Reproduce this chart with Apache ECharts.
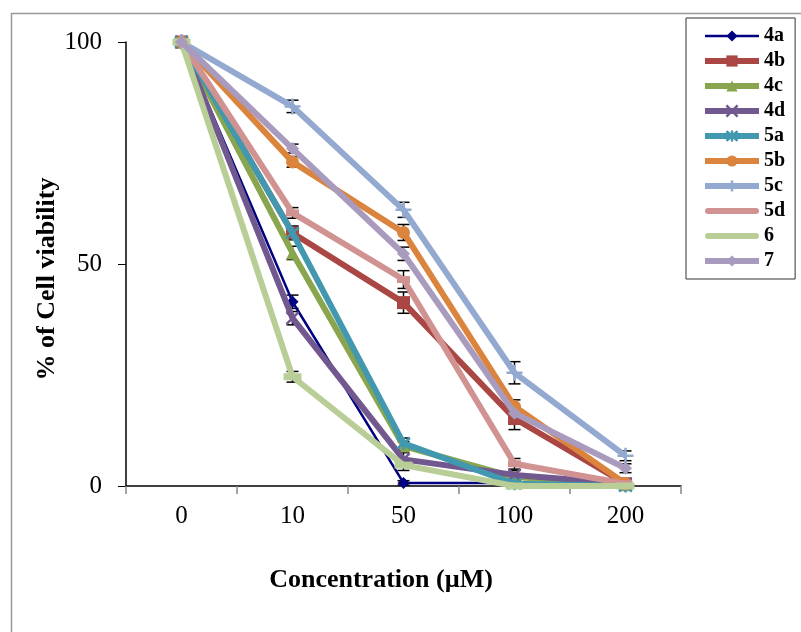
<!DOCTYPE html>
<html>
<head>
<meta charset="utf-8">
<script src="https://cdn.jsdelivr.net/npm/echarts@6/dist/echarts.min.js"></script>
<style>
html,body{margin:0;padding:0;background:#fff;}
#chart{width:801px;height:632px;}
</style>
</head>
<body>
<div id="chart"></div>
<script>
// ---- data ----
var categories = ['0', '10', '50', '100', '200'];
var yTicks = [0, 50, 100];
var seriesNames = ['4a', '4b', '4c', '4d', '5a', '5b', '5c', '5d', '6', '7'];
var v4a = [100, 41.5, 0.7, 0.7, 0];
var v4b = [100, 57, 41.3, 15.2, 0.5];
var v4c = [100, 52.5, 9, 2, 0.3];
var v4d = [100, 37.8, 6, 2.5, 0.5];
var v5a = [100, 57, 9.6, 0.5, 0];
var v5b = [100, 73, 57.1, 17.9, 0.5];
var v5c = [100, 85.5, 62.2, 25.5, 6.8];
var v5d = [100, 61.5, 46.5, 5, 0.5];
var v6  = [100, 24.6, 4.7, 0, 0];
var v7  = [100, 76, 52.3, 16.4, 4];
var e4a = [0, 1.5, 0.5, 0.5, 0];
var e4b = [0, 1.5, 2.4, 2.5, 0.5];
var e4c = [0, 1.5, 1.0, 0.5, 0];
var e4d = [0, 1.5, 1.5, 1.0, 0.5];
var e5a = [0, 1.5, 1.2, 0.5, 0.3];
var e5b = [0, 1.2, 1.8, 1.5, 0.5];
var e5c = [0, 1.4, 1.7, 2.5, 1.1];
var e5d = [0, 1.2, 2.0, 1.2, 0.5];
var e6  = [0, 1.2, 1.2, 0.3, 0];
var e7  = [0, 1.0, 1.5, 1.5, 1.0];

var values = [v4a, v4b, v4c, v4d, v5a, v5b, v5c, v5d, v6, v7];
var errors = [e4a, e4b, e4c, e4d, e5a, e5b, e5c, e5d, e6, e7];

// ---- styles ----
var colors = ['#000080', '#AA4643', '#89A54E', '#71588F', '#4198AF', '#DB843D', '#93A9CF', '#D19392', '#B9CD96', '#A99BBD'];
var lineWidths = [2.5, 6, 6, 6, 6, 6, 6, 6, 6, 6];
var symbols = ['diamond', 'rect', 'triangle',
  'path://M0,0L10,10M10,0L0,10',
  'path://M0,0L10,10M10,0L0,10M5,-1L5,11',
  'circle',
  'path://M5,0L5,10M0,5L10,5',
  'rect', 'rect', 'diamond'];
var symbolSizes = [12, 13, 13, 12, 13, 13, 16, [13, 7], [18, 7], 13];
var strokeSym = [false, false, false, true, true, false, true, false, false, false];
var plainLegend = [false, false, false, false, false, false, false, true, true, false];

var chart = echarts.init(document.getElementById('chart'));
var serif = '"Liberation Serif", "Times New Roman", serif';

var series = [];
// error bars
values.forEach(function (vals, si) {
  var d = vals.map(function (v, i) { return [i, v, errors[si][i]]; }).filter(function (p) { return p[2] > 0; });
  series.push({
    type: 'custom',
    name: 'err' + si,
    z: 1,
    silent: true,
    data: d,
    renderItem: function (params, api) {
      var x = api.value(0), y = api.value(1), e = api.value(2);
      var hi = api.coord([x, y + e]);
      var lo = api.coord([x, y - e]);
      var w = 6;
      var st = { stroke: '#000', lineWidth: 1.5 };
      return {
        type: 'group',
        children: [
          { type: 'line', shape: { x1: hi[0], y1: hi[1], x2: lo[0], y2: lo[1] }, style: st },
          { type: 'line', shape: { x1: hi[0] - w, y1: hi[1], x2: hi[0] + w, y2: hi[1] }, style: st },
          { type: 'line', shape: { x1: lo[0] - w, y1: lo[1], x2: lo[0] + w, y2: lo[1] }, style: st }
        ]
      };
    }
  });
});
values.forEach(function (vals, si) {
  var is = { color: colors[si] };
  if (strokeSym[si]) { is.borderColor = colors[si]; is.borderWidth = 2.5; }
  series.push({
    type: 'line',
    name: seriesNames[si],
    data: vals,
    z: 2 + si,
    symbol: symbols[si],
    symbolSize: symbolSizes[si],
    showAllSymbol: true,
    lineStyle: { color: colors[si], width: lineWidths[si] },
    itemStyle: is,
    emphasis: { disabled: true },
    animation: false
  });
});

var legendData = seriesNames.map(function (n, i) {
  return plainLegend[i] ? { name: n, icon: 'path://M3,0L52,0A3,3,0,0,1,52,6L3,6A3,3,0,0,1,3,0Z' } : { name: n };
});

chart.setOption({
  animation: false,
  backgroundColor: '#fff',
  grid: { left: 126, top: 42, right: 120, bottom: 146, containLabel: false },
  legend: {
    data: legendData,
    orient: 'vertical',
    left: 686,
    top: 18,
    padding: [8, 10, 8, 16],
    itemWidth: 54,
    itemHeight: 14,
    itemGap: 5,
    borderColor: '#333',
    borderWidth: 1,
    lineStyle: { width: 'inherit' },
    itemStyle: { borderWidth: 'inherit' },
    textStyle: { fontFamily: serif, fontWeight: 'bold', fontSize: 20, color: '#000' },
    selectedMode: false
  },
  xAxis: {
    type: 'category',
    data: categories,
    boundaryGap: true,
    axisLine: { lineStyle: { color: '#000', width: 1.5 } },
    axisTick: { show: true, length: 8, lineStyle: { color: '#888', width: 1.5 } },
    axisLabel: { fontFamily: serif, fontSize: 25, color: '#000', margin: 18 },
    splitLine: { show: false }
  },
  yAxis: {
    type: 'value',
    min: 0,
    max: 100,
    interval: 50,
    axisLine: { show: true, lineStyle: { color: '#000', width: 1.5 } },
    axisTick: { show: true, length: 8, lineStyle: { color: '#000', width: 1 } },
    axisLabel: { fontFamily: serif, fontSize: 25, color: '#000', margin: 24 },
    splitLine: { show: false }
  },
  graphic: [
    { type: 'rect', left: 9, top: 11, shape: { width: 900, height: 700 }, style: { fill: 'none', stroke: '#999', lineWidth: 1.5 }, silent: true, z: -1 },
    { type: 'text', x: 381, y: 580, style: { text: 'Concentration (µM)', font: 'bold 26px ' + serif, fill: '#000', textAlign: 'center', textVerticalAlign: 'middle' } },
    { type: 'text', x: 47, y: 279, rotation: Math.PI / 2, style: { text: '% of Cell viability', font: 'bold 26px ' + serif, fill: '#000', textAlign: 'center', textVerticalAlign: 'middle' } }
  ],
  series: series
});
</script>
</body>
</html>
